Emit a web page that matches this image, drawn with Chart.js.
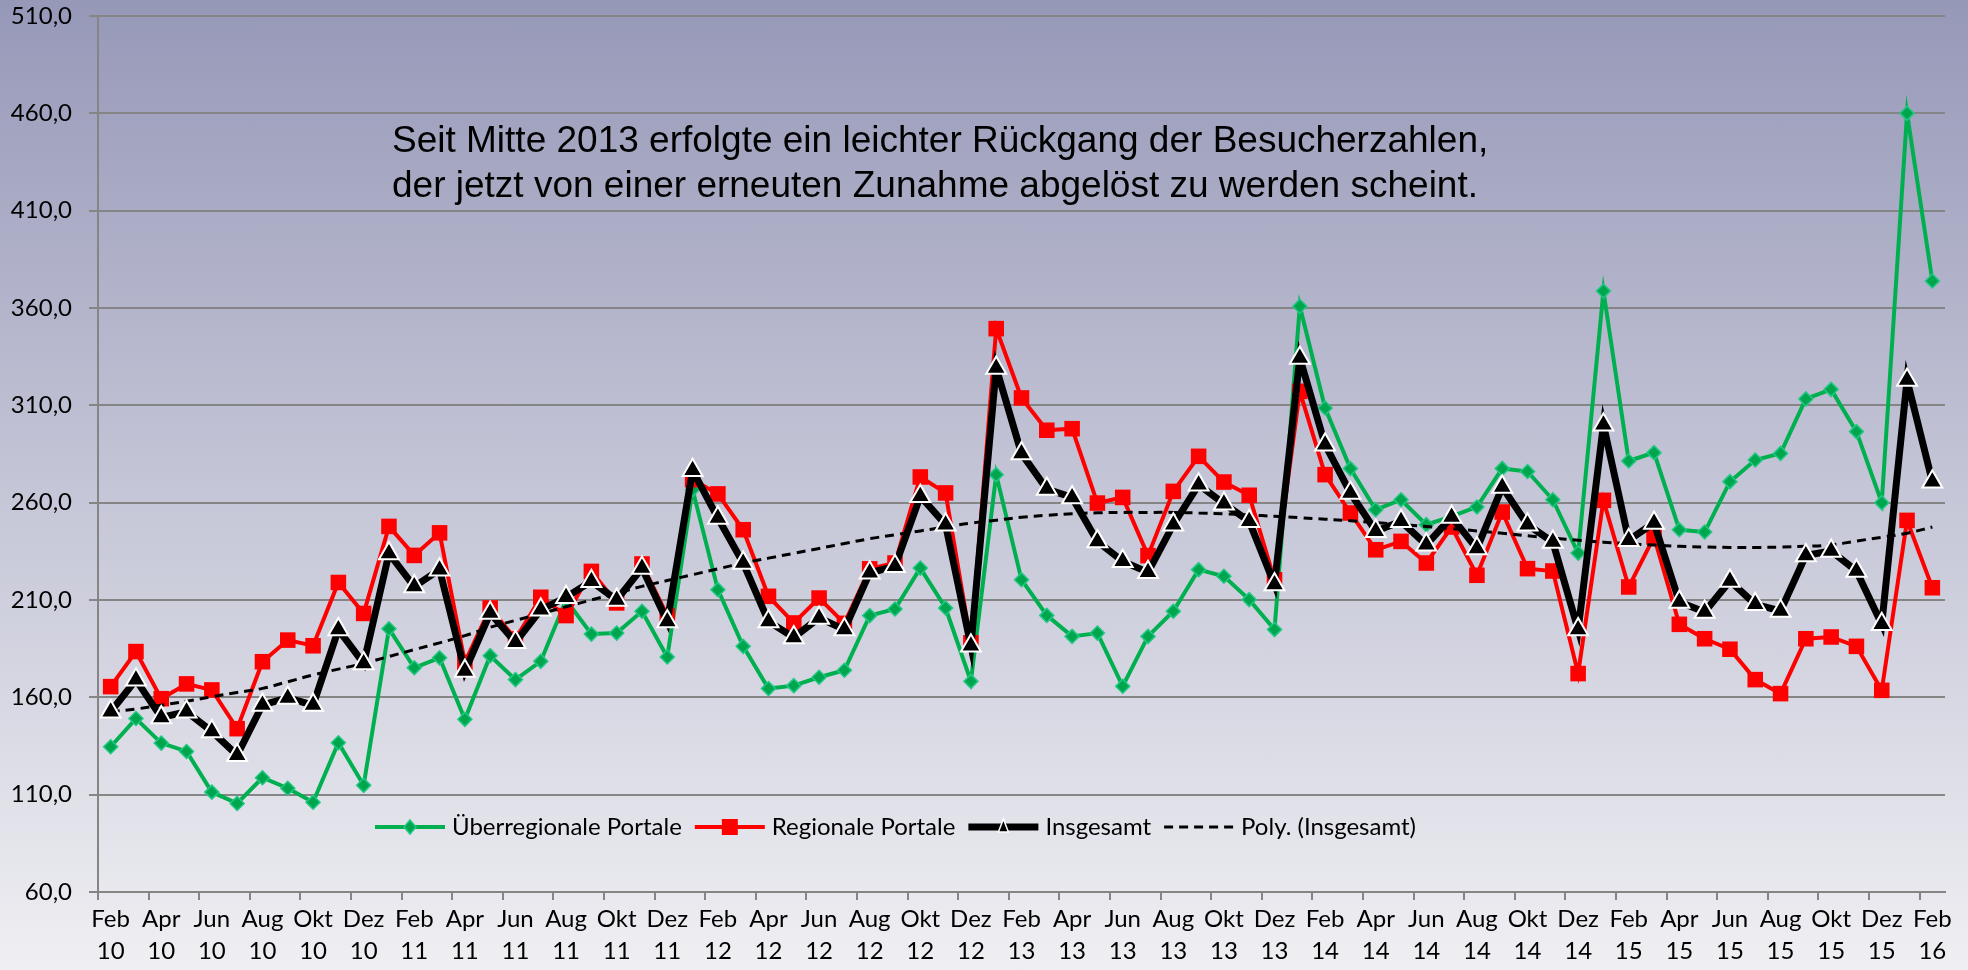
<!DOCTYPE html>
<html lang="de">
<head>
<meta charset="utf-8">
<title>Besucherzahlen Portale</title>
<script src="https://cdn.jsdelivr.net/npm/chart.js@4.4.1/dist/chart.umd.min.js"></script>
<style>
  html, body { margin: 0; padding: 0; }
  body {
    width: 1968px;
    height: 970px;
    overflow: hidden;
    background: linear-gradient(to bottom, #9698b8 0%, #c4c5d6 50%, #efeff3 100%);
  }
  #wrap { position: relative; width: 1968px; height: 970px; }
</style>
</head>
<body>
<div id="wrap"><canvas id="besucherChart" width="1968" height="970"></canvas></div>
<script>
// Monate Feb 2010 bis Feb 2016
const monthLabels = [
  "Feb 10", "Mär 10", "Apr 10", "Mai 10", "Jun 10", "Jul 10", "Aug 10", "Sep 10", "Okt 10", "Nov 10", "Dez 10",
  "Jan 11", "Feb 11", "Mär 11", "Apr 11", "Mai 11", "Jun 11", "Jul 11", "Aug 11", "Sep 11", "Okt 11", "Nov 11", "Dez 11",
  "Jan 12", "Feb 12", "Mär 12", "Apr 12", "Mai 12", "Jun 12", "Jul 12", "Aug 12", "Sep 12", "Okt 12", "Nov 12", "Dez 12",
  "Jan 13", "Feb 13", "Mär 13", "Apr 13", "Mai 13", "Jun 13", "Jul 13", "Aug 13", "Sep 13", "Okt 13", "Nov 13", "Dez 13",
  "Jan 14", "Feb 14", "Mär 14", "Apr 14", "Mai 14", "Jun 14", "Jul 14", "Aug 14", "Sep 14", "Okt 14", "Nov 14", "Dez 14",
  "Jan 15", "Feb 15", "Mär 15", "Apr 15", "Mai 15", "Jun 15", "Jul 15", "Aug 15", "Sep 15", "Okt 15", "Nov 15", "Dez 15",
  "Jan 16", "Feb 16",
];

// Überregionale Portale (grün)
const ueberregional = [
  134.6, 149.1, 136.5, 132.2, 111.3, 105.5, 118.7, 113.3, 106.1, 136.7, 114.8,
  195.2, 175.2, 180.3, 148.7, 181.4, 169.1, 178.5, 210.0, 192.5, 193.0, 204.2, 180.7,
  266.7, 215.3, 186.2, 164.5, 166.0, 170.3, 173.9, 202.0, 205.4, 226.4, 205.9, 168.2,
  274.4, 220.4, 202.1, 191.3, 193.0, 165.7, 191.3, 204.2, 225.6, 222.2, 210.2, 194.8,
  360.9, 308.6, 277.5, 256.4, 261.5, 248.7, 253.0, 257.8, 277.6, 276.0, 261.5, 234.1,
  368.7, 281.4, 285.7, 246.1, 244.9, 270.8, 281.9, 285.3, 313.3, 318.2, 296.5, 260.0,
  460.0, 373.9,
];

// Regionale Portale (rot)
const regional = [
  165.5, 183.5, 159.3, 166.9, 163.8, 143.9, 178.3, 189.4, 186.5, 219.0, 203.1,
  247.8, 232.9, 244.5, 178.0, 205.9, 190.0, 211.4, 202.0, 224.7, 208.5, 228.5, 202.0,
  271.8, 264.5, 246.1, 211.9, 198.2, 211.0, 198.0, 226.0, 229.0, 273.2, 265.0, 188.0,
  349.4, 313.8, 297.2, 298.0, 259.8, 262.7, 232.8, 265.8, 283.8, 270.6, 263.8, 220.4,
  317.2, 274.4, 254.7, 235.8, 240.1, 229.0, 247.5, 222.7, 255.2, 226.1, 224.9, 172.2,
  261.2, 216.7, 242.4, 197.5, 190.1, 184.7, 169.1, 161.9, 190.1, 191.0, 186.2, 163.6,
  250.9, 216.3,
];

// Insgesamt (schwarz)
const insgesamt = [
  152.6, 169.0, 149.7, 152.6, 142.5, 130.3, 156.1, 159.7, 156.0, 194.8, 177.4,
  233.9, 216.9, 225.6, 173.5, 203.3, 188.3, 205.0, 211.4, 219.6, 210.0, 226.4, 199.0,
  276.6, 252.1, 229.0, 199.0, 190.8, 200.8, 194.8, 224.0, 227.3, 263.3, 248.7, 186.5,
  329.2, 285.2, 267.0, 262.7, 240.1, 229.9, 224.2, 248.7, 269.2, 259.5, 250.4, 217.9,
  334.3, 289.8, 265.0, 245.3, 250.4, 238.4, 252.6, 236.4, 268.0, 248.7, 239.8, 194.8,
  300.0, 240.7, 249.6, 209.0, 203.8, 219.8, 207.8, 204.4, 232.9, 235.2, 224.9, 197.5,
  323.0, 270.8,
];

// Poly. (Insgesamt) - Trendlinie
const polyTrend = [
  152.6, 154.0, 156.0, 158.0, 160.3, 162.5, 164.6, 168.0, 171.5, 174.5, 177.4,
  181.0, 184.5, 188.0, 191.7, 196.0, 199.5, 203.0, 206.5, 210.0, 213.5, 217.0, 220.0,
  223.0, 226.0, 229.0, 231.5, 234.0, 236.5, 239.0, 241.5, 243.5, 245.5, 247.5, 249.5,
  251.0, 252.5, 253.5, 254.3, 254.8, 255.0, 255.0, 255.0, 254.7, 254.3, 253.7, 253.0,
  252.3, 251.5, 250.7, 249.8, 248.8, 247.8, 246.7, 245.5, 244.3, 243.0, 241.8, 240.7,
  239.7, 238.9, 238.2, 237.6, 237.2, 237.0, 237.0, 237.2, 237.6, 238.3, 240.3, 242.2,
  244.3, 247.5,
];

const yTicks = [60, 110, 160, 210, 260, 310, 360, 410, 460, 510];

const annotationLines = [
  "Seit Mitte 2013 erfolgte ein leichter Rückgang der Besucherzahlen,",
  "der jetzt von einer erneuten Zunahme abgelöst zu werden scheint.",
];

const GRID_GRAY = "#858585";
const LABEL_FONT = "Lato, 'Open Sans', sans-serif";

// Text im Diagramm
const annotationPlugin = {
  id: "annotationText",
  afterDraw(chart) {
    const { ctx, chartArea } = chart;
    ctx.save();
    ctx.font = "37px 'Liberation Sans', Arial, sans-serif";
    ctx.fillStyle = "#000";
    ctx.textBaseline = "alphabetic";
    annotationLines.forEach((line, i) => {
      ctx.fillText(line, chartArea.left + 294, chartArea.top + 136 + i * 45);
    });
    ctx.restore();
  },
};

// Marker für die Legende zeichnen
const drawMarker = (ctx, ds, x, y) => {
  const style = ds.pointStyle;
  ctx.fillStyle = ds.pointBackgroundColor;
  ctx.strokeStyle = ds.pointBorderColor;
  ctx.lineWidth = 1.5;
  ctx.setLineDash([]);
  ctx.beginPath();
  if (style === "rectRot") {
    ctx.moveTo(x, y - 7);
    ctx.lineTo(x + 6, y);
    ctx.lineTo(x, y + 7);
    ctx.lineTo(x - 6, y);
  } else if (style === "rect") {
    ctx.rect(x - 8, y - 8, 16, 16);
  } else if (style === "triangle") {
    ctx.moveTo(x, y - 8);
    ctx.lineTo(x + 5, y + 5);
    ctx.lineTo(x - 5, y + 5);
  }
  ctx.closePath();
  ctx.fill();
  if (style !== "rect") ctx.stroke();
};

// Legende innerhalb der Zeichenfläche
const legendPlugin = {
  id: "innerLegend",
  afterDraw(chart) {
    const { ctx, chartArea } = chart;
    const y = chartArea.top + 811;
    let x = chartArea.left + 277;
    ctx.save();
    ctx.font = "24px " + LABEL_FONT;
    ctx.textBaseline = "middle";
    chart.data.datasets.forEach((ds) => {
      ctx.strokeStyle = ds.borderColor;
      ctx.lineWidth = ds.borderWidth;
      ctx.setLineDash(ds.borderDash || []);
      ctx.beginPath();
      ctx.moveTo(x, y);
      ctx.lineTo(x + 70, y);
      ctx.stroke();
      if (ds.pointStyle) drawMarker(ctx, ds, x + 35, y);
      ctx.fillStyle = "#000";
      ctx.fillText(ds.label, x + 77, y);
      x += 77 + ctx.measureText(ds.label).width + 13;
    });
    ctx.restore();
  },
};

const createChart = () => {
  const ctx = document.getElementById("besucherChart").getContext("2d");
  new Chart(ctx, {
    type: "line",
    data: {
      labels: monthLabels,
      datasets: [
        {
          label: "Überregionale Portale",
          data: ueberregional,
          borderColor: "#00b050",
          borderWidth: 4,
          pointStyle: "rectRot",
          pointRadius: 7,
          pointBackgroundColor: "#00a64d",
          pointBorderColor: "#1fc983",
          pointBorderWidth: 1.5,
          order: 3,
        },
        {
          label: "Regionale Portale",
          data: regional,
          borderColor: "#ff0000",
          borderWidth: 4,
          pointStyle: "rect",
          pointRadius: 11,
          pointBackgroundColor: "#ff0000",
          pointBorderColor: "#ff0000",
          pointBorderWidth: 0,
          order: 2,
        },
        {
          label: "Insgesamt",
          data: insgesamt,
          borderColor: "#000000",
          borderWidth: 7,
          pointStyle: "triangle",
          pointRadius: 11.5,
          pointBackgroundColor: "#000000",
          pointBorderColor: "#ffffff",
          pointBorderWidth: 2,
          order: 0,
        },
        {
          label: "Poly. (Insgesamt)",
          data: polyTrend,
          borderColor: "#000000",
          borderWidth: 3,
          borderDash: [9, 6],
          pointRadius: 0,
          tension: 0.4,
          order: 1,
        },
      ],
    },
    options: {
      responsive: false,
      animation: false,
      layout: { padding: { top: 16, right: 23, left: 0, bottom: 0 } },
      plugins: {
        legend: { display: false },
        tooltip: { enabled: false },
      },
      scales: {
        x: {
          offset: true,
          afterFit: (scale) => { scale.height = 78; },
          grid: {
            offset: true,
            drawOnChartArea: false,
            drawTicks: true,
            tickLength: 8,
            lineWidth: 2,
            color: (c) => (c.index % 2 === 0 ? GRID_GRAY : "rgba(0,0,0,0)"),
          },
          border: { display: true, color: GRID_GRAY, width: 2 },
          ticks: {
            autoSkip: false,
            maxRotation: 0,
            minRotation: 0,
            padding: 3,
            color: "#000",
            font: { family: LABEL_FONT, size: 24, lineHeight: 1.33 },
            callback: function (value, index) {
              return index % 2 === 0 ? monthLabels[index].split(" ") : "";
            },
          },
        },
        y: {
          min: yTicks[0],
          max: yTicks[yTicks.length - 1],
          afterFit: (scale) => {
            // feste Breite, und die Tick-Abstände nicht als Randabstand nehmen
            scale.width = 98;
            scale.paddingTop = 14;
            scale.paddingBottom = 0;
          },
          afterBuildTicks: (scale) => {
            scale.ticks = yTicks.map((v) => ({ value: v }));
          },
          grid: {
            color: GRID_GRAY,
            lineWidth: 2,
            drawTicks: true,
            tickLength: 9,
          },
          border: { display: true, color: GRID_GRAY, width: 2 },
          ticks: {
            padding: 17,
            color: "#000",
            font: { family: LABEL_FONT, size: 24 },
            callback: (v) => v.toFixed(1).replace(".", ","),
          },
        },
      },
    },
    plugins: [annotationPlugin, legendPlugin],
  });
};

document.addEventListener("DOMContentLoaded", () => {
  createChart();
});
</script>
</body>
</html>
